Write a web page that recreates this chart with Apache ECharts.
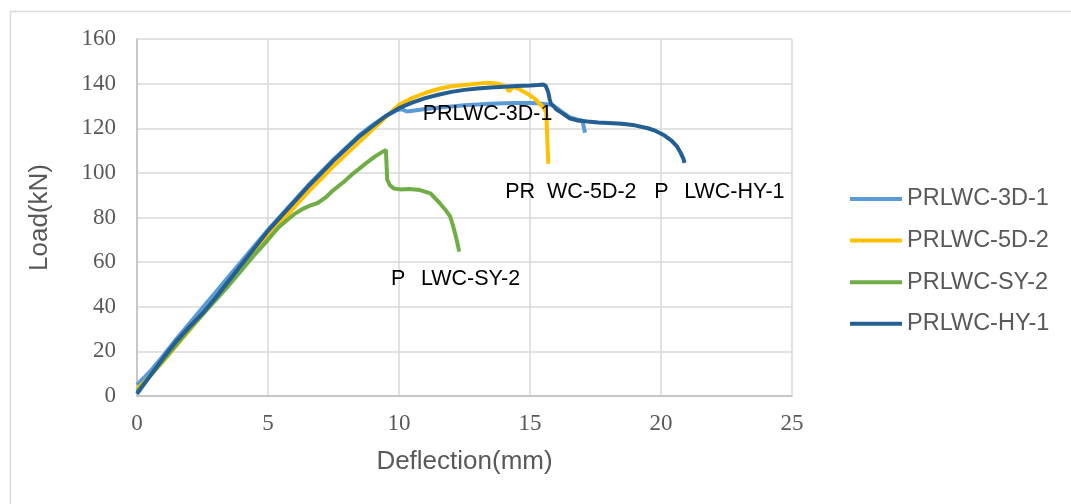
<!DOCTYPE html>
<html>
<head>
<meta charset="utf-8">
<script src="https://cdn.jsdelivr.net/npm/echarts@6/dist/echarts.min.js"></script>
<style>
  html, body { margin: 0; padding: 0; background: #fff; }
  #chart { width: 1071px; height: 504px; }
</style>
</head>
<body>
<div id="chart"></div>
<script>
// Load–deflection curves of the four PRLWC specimens: [deflection (mm), load (kN)]
const seriesNames = ['PRLWC-3D-1', 'PRLWC-5D-2', 'PRLWC-SY-2', 'PRLWC-HY-1'];

const curve3D1 = [
  [0, 5], [0.5, 11], [1, 18], [1.5, 25.5], [2, 32.5], [2.5, 39.5], [3, 46.5], [3.5, 53.5],
  [4, 60.5], [4.5, 67.5], [5, 74.5], [5.5, 81], [6, 87.5], [6.5, 94], [7, 100], [7.5, 106],
  [8, 111.5], [8.5, 117], [9, 121.5], [9.5, 125.5], [9.9, 128], [10.1, 128.5], [10.3, 127.5],
  [10.6, 128], [11, 128.6], [11.5, 129.2], [12, 129.8], [12.5, 130.3], [13, 130.6], [13.5, 131],
  [14, 131.2], [14.5, 131.3], [15, 131.3], [15.3, 131.2], [15.6, 130.8], [15.8, 130.5],
  [16, 129.3], [16.2, 127.5], [16.5, 125], [16.8, 124], [17.0, 123.4], [17.1, 118]
];

const curve5D2 = [
  [0, 3], [0.5, 9], [1, 15.5], [1.5, 22.5], [2, 29.5], [2.5, 36.5], [3, 43.5], [3.5, 50.5],
  [4, 57.5], [4.5, 64.5], [5, 71.5], [5.5, 78], [6, 84.5], [6.5, 91], [7, 97], [7.5, 103],
  [8, 108.5], [8.5, 114], [9, 119.5], [9.5, 125], [10, 130.5], [10.5, 133.5], [11, 135.8],
  [11.5, 137.6], [12, 138.8], [12.5, 139.4], [13, 140], [13.4, 140.4], [13.8, 140], [14.1, 138.5],
  [14.2, 136.5], [14.35, 138.5], [14.6, 137.5], [14.9, 135.5], [15.2, 133], [15.5, 129.5],
  [15.62, 127], [15.66, 115], [15.7, 104]
];

const curveSY2 = [
  [0, 2], [0.5, 9], [1, 16], [1.5, 23], [2, 30], [2.5, 36.5], [3, 43], [3.5, 49.5], [4, 56.5],
  [4.5, 63.5], [5, 70], [5.4, 75.5], [5.7, 78.5], [6, 81.5], [6.35, 84], [6.6, 85.3], [6.9, 86.5],
  [7.2, 89], [7.5, 92.3], [7.9, 96], [8.26, 99.8], [8.77, 104.6], [9.1, 107.5], [9.5, 110.3],
  [9.55, 97], [9.65, 94.5], [9.8, 93], [10.05, 92.6], [10.4, 92.8], [10.8, 92.3], [11.2, 90.8],
  [11.55, 86.5], [11.8, 83], [11.95, 80.5], [12.07, 76], [12.2, 70], [12.3, 64.7]
];

const curveHY1 = [
  [0, 1], [0.5, 9], [1, 17], [1.5, 24.5], [2, 31], [2.5, 37], [3, 44], [3.5, 51.5], [4, 59],
  [4.5, 66.5], [5, 74], [5.5, 80.5], [6, 87], [6.5, 93.5], [7, 99.5], [7.5, 105.5], [8, 111],
  [8.5, 116.5], [9, 121], [9.5, 125.5], [10, 129], [10.5, 131.5], [11, 133.5], [11.5, 135],
  [12, 136.3], [12.5, 137.2], [13, 137.8], [13.5, 138.3], [14, 138.6], [14.5, 138.9], [15, 139.2],
  [15.3, 139.4], [15.5, 139.6], [15.6, 139], [15.7, 136], [15.75, 133], [15.8, 131], [15.9, 130],
  [16, 128.5], [16.2, 127], [16.5, 124.5], [16.8, 123.5], [17.2, 123], [17.6, 122.6], [18, 122.4],
  [18.5, 122], [19, 121.3], [19.5, 120], [19.8, 118.8], [20.1, 117], [20.4, 114.5], [20.6, 112],
  [20.75, 109], [20.85, 106.5], [20.9, 104.5]
];

const curves = [curve3D1, curve5D2, curveSY2, curveHY1];
const colors = ['#5B9BD5', '#FFC000', '#70AD47', '#255E91'];

// Name labels placed beside each curve (centre of the text, in axis units)
const labelX = [13.38, 16.56, 12.16, 22.23];
const labelY = [126.5, 91.2, 52.4, 91.2];
// Label text, with the glyph that sits on a grid line left blank
const labelText = ['PRLWC-3D-1', 'PR{h|L}WC-5D-2', 'P{h|R}LWC-SY-2', 'P{h|R}LWC-HY-1'];

const xTicks = { min: 0, max: 25, step: 5 };
const yTicks = { min: 0, max: 160, step: 20 };

const chart = echarts.init(document.getElementById('chart'), null, { renderer: 'canvas' });

const sans = 'Liberation Sans, Arial, sans-serif';
const serif = 'Liberation Serif, Times New Roman, serif';

const series = curves.map((data, i) => ({
  name: seriesNames[i],
  type: 'line',
  data: data,
  showSymbol: false,
  symbol: 'none',
  smooth: false,
  color: colors[i],
  lineStyle: { color: colors[i], width: 4 },
  z: 2 + i,
  markPoint: {
    symbol: 'circle',
    symbolSize: 1,
    itemStyle: { color: 'transparent' },
    silent: true,
    data: [{ coord: [labelX[i], labelY[i]] }],
    label: {
      show: true,
      position: 'inside',
      formatter: labelText[i],
      color: '#000',
      fontSize: 21.5,
      fontFamily: sans,
      rich: { h: { color: 'transparent', fontSize: 21.5, fontFamily: sans } }
    }
  }
}));

chart.setOption({
  animation: false,
  backgroundColor: '#fff',
  graphic: [{
    type: 'rect',
    left: 8, top: 9,
    shape: { width: 1200, height: 700 },
    style: { fill: 'none', stroke: '#D9D9D9', lineWidth: 1.5 },
    silent: true, z: -1
  }],
  grid: { left: 137, right: 279, top: 39, bottom: 108 },
  legend: {
    orient: 'vertical',
    left: 845,
    top: 182,
    data: seriesNames,
    icon: 'rect',
    itemWidth: 52,
    itemHeight: 4,
    itemGap: 17.6,
    textStyle: { color: '#595959', fontSize: 23.5, fontFamily: sans, lineHeight: 24 }
  },
  xAxis: {
    type: 'value',
    min: xTicks.min, max: xTicks.max, interval: xTicks.step,
    name: 'Deflection(mm)',
    nameLocation: 'middle',
    nameGap: 53,
    nameTextStyle: { color: '#595959', fontSize: 26, fontFamily: sans },
    axisLine: { show: true, onZero: false, lineStyle: { color: '#BFBFBF', width: 1.5 } },
    axisTick: { show: false },
    axisLabel: { color: '#595959', fontSize: 23, fontFamily: serif, margin: 16 },
    splitLine: { show: true, lineStyle: { color: '#D9D9D9', width: 1.5 } }
  },
  yAxis: {
    type: 'value',
    min: yTicks.min, max: yTicks.max, interval: yTicks.step,
    name: 'Load(kN)',
    nameLocation: 'middle',
    nameGap: 84,
    nameTextStyle: { color: '#595959', fontSize: 26, fontFamily: sans },
    axisLine: { show: true, onZero: false, lineStyle: { color: '#BFBFBF', width: 1.5 } },
    axisTick: { show: false },
    axisLabel: { color: '#595959', fontSize: 23, fontFamily: serif, margin: 21 },
    splitLine: { show: true, lineStyle: { color: '#D9D9D9', width: 1.5 } }
  },
  series: series
});
</script>
</body>
</html>
